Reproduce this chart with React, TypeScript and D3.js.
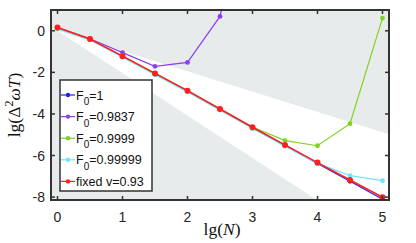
import * as d3 from "d3";
import { useEffect, useRef } from "react";

// lg(N) sample points
const xValues = [0, 0.5, 1, 1.5, 2, 2.5, 3, 3.5, 4, 4.5, 5];

const blueValues = [0.12, -0.42, -1.24, -2.08, -2.91, -3.79, -4.67, -5.53, -6.38, -7.24, -8.1];
const purpleValues = [0.15, -0.38, -1.05, -1.71, -1.52, 0.69, 8.0];
const greenValues = [0.14, -0.4, -1.21, -2.05, -2.88, -3.76, -4.63, -5.28, -5.53, -4.47, 0.61];
const cyanValues = [0.1, -0.44, -1.27, -2.11, -2.94, -3.82, -4.7, -5.55, -6.38, -6.97, -7.21];
const redValues = [0.16, -0.4, -1.22, -2.05, -2.88, -3.76, -4.64, -5.49, -6.34, -7.18, -8.01];

const seriesNames = ["1", "0.9837", "0.9999", "0.99999", "fixed"];
const seriesColors = ["#2222e6", "#8a3ff0", "#7ed321", "#72e4fb", "#ff1f1f"];

const xTicks = [0, 1, 2, 3, 4, 5];
const yTicks = [0, -2, -4, -6, -8];

// bounding lines of the white wedge (slopes in lg units)
const upperSlope = -0.975;
const lowerSlope = -2.04;

export default function App() {
    const svgRef = useRef<SVGSVGElement | null>(null);

    useEffect(() => {
        if (!svgRef.current) return;
        const svg = d3.select(svgRef.current);
        svg.selectAll("*").remove();

        const width = 416;
        const height = 243;
        const left = 51, right = 389, top = 10, bottom = 200;

        const x = d3.scaleLinear().domain([-0.1, 5.1]).range([left, right]);
        const y = d3.scaleLinear().domain([-8.14, 1]).range([bottom, top]);

        svg.attr("width", width).attr("height", height);

        svg.append("defs").append("clipPath").attr("id", "plotclip")
            .append("rect")
            .attr("x", left).attr("y", top)
            .attr("width", right - left).attr("height", bottom - top);

        // gray background
        svg.append("rect")
            .attr("x", left).attr("y", top)
            .attr("width", right - left).attr("height", bottom - top)
            .attr("fill", "#e8ebec");

        // white wedge between the two bounds
        const x1 = 5.1;
        const xLow = -8.14 / lowerSlope;
        const wedge: [number, number][] = [
            [0, 0],
            [x1, upperSlope * x1],
            [x1, -8.14],
            [xLow, -8.14],
        ];
        svg.append("path")
            .attr("clip-path", "url(#plotclip)")
            .attr("d", d3.line<[number, number]>().x((d) => x(d[0])).y((d) => y(d[1]))(wedge) + "Z")
            .attr("fill", "#ffffff");

        const allSeries = [blueValues, purpleValues, greenValues, cyanValues, redValues];

        const line = d3.line<number>()
            .x((_, i) => x(xValues[i]))
            .y((d) => y(d));

        const plot = svg.append("g").attr("clip-path", "url(#plotclip)");

        allSeries.forEach((vals, k) => {
            const isRed = k === 4;
            plot.append("path")
                .datum(vals)
                .attr("fill", "none")
                .attr("stroke", seriesColors[k])
                .attr("stroke-width", isRed ? 1.6 : 1.2)
                .attr("d", line);
            plot.selectAll(null)
                .data(vals)
                .enter()
                .append("circle")
                .attr("cx", (_, i) => x(xValues[i]))
                .attr("cy", (d) => y(d))
                .attr("r", isRed ? 3 : 2.4)
                .attr("fill", seriesColors[k]);
        });

        // axes box with inward ticks
        const axisColor = "#333333";
        const axes = svg.append("g");
        axes.append("rect")
            .attr("x", left).attr("y", top)
            .attr("width", right - left).attr("height", bottom - top)
            .attr("fill", "none")
            .attr("stroke", axisColor)
            .attr("stroke-width", 2);

        xTicks.forEach((t) => {
            axes.append("line")
                .attr("x1", x(t)).attr("x2", x(t))
                .attr("y1", bottom).attr("y2", bottom - 4)
                .attr("stroke", axisColor).attr("stroke-width", 1.5);
            axes.append("line")
                .attr("x1", x(t)).attr("x2", x(t))
                .attr("y1", top).attr("y2", top + 4)
                .attr("stroke", axisColor).attr("stroke-width", 1.5);
            axes.append("text")
                .attr("x", x(t)).attr("y", 222)
                .attr("text-anchor", "middle")
                .attr("font-family", "Liberation Sans, Arial, sans-serif")
                .attr("font-size", 14)
                .attr("fill", "#262626")
                .text(String(t));
        });

        yTicks.forEach((t) => {
            axes.append("line")
                .attr("x1", left).attr("x2", left + 4)
                .attr("y1", y(t)).attr("y2", y(t))
                .attr("stroke", axisColor).attr("stroke-width", 1.5);
            axes.append("line")
                .attr("x1", right).attr("x2", right - 4)
                .attr("y1", y(t)).attr("y2", y(t))
                .attr("stroke", axisColor).attr("stroke-width", 1.5);
            axes.append("text")
                .attr("x", 45).attr("y", y(t) + 5)
                .attr("text-anchor", "end")
                .attr("font-family", "Liberation Sans, Arial, sans-serif")
                .attr("font-size", 14)
                .attr("fill", "#262626")
                .text(String(t));
        });

        // axis labels
        const xLabel = svg.append("text")
            .attr("x", 222).attr("y", 235)
            .attr("text-anchor", "middle")
            .attr("font-family", "Liberation Serif, serif")
            .attr("font-size", 17.5)
            .attr("fill", "#111");
        xLabel.append("tspan").text("lg(");
        xLabel.append("tspan").attr("font-style", "italic").text("N");
        xLabel.append("tspan").text(")");

        const yLabel = svg.append("text")
            .attr("transform", "translate(20,105) rotate(-90)")
            .attr("text-anchor", "middle")
            .attr("font-family", "Liberation Serif, serif")
            .attr("font-size", 17.5)
            .attr("fill", "#111");
        yLabel.append("tspan").text("lg(Δ");
        yLabel.append("tspan").attr("font-size", 12).attr("dy", -7).text("2");
        yLabel.append("tspan").attr("font-style", "italic").attr("dy", 7).text("ωT");
        yLabel.append("tspan").text(")");

        // legend
        const legend = svg.append("g");
        legend.append("rect")
            .attr("x", 60).attr("y", 80)
            .attr("width", 92).attr("height", 111)
            .attr("fill", "#ffffff")
            .attr("stroke", axisColor)
            .attr("stroke-width", 1.5);

        seriesNames.forEach((name, k) => {
            const ry = 95 + k * 21.6;
            legend.append("line")
                .attr("x1", 61).attr("x2", 75)
                .attr("y1", ry).attr("y2", ry)
                .attr("stroke", seriesColors[k]).attr("stroke-width", 1.2);
            legend.append("circle")
                .attr("cx", 68).attr("cy", ry).attr("r", 2.2)
                .attr("fill", seriesColors[k]);
            const txt = legend.append("text")
                .attr("x", 76).attr("y", ry + 4.5)
                .attr("font-family", "Liberation Sans, Arial, sans-serif")
                .attr("font-size", 12.5)
                .attr("fill", "#111");
            if (name === "fixed") {
                txt.text("fixed v=0.93");
            } else {
                txt.append("tspan").text("F");
                txt.append("tspan").attr("font-size", 10).attr("dy", 5.5).text("0");
                txt.append("tspan").attr("dy", -5.5).text("=" + name);
            }
        });
    }, []);

    return (
        <svg ref={svgRef} style={{ position: "absolute", left: 0, top: 0 }} />
    );
}
